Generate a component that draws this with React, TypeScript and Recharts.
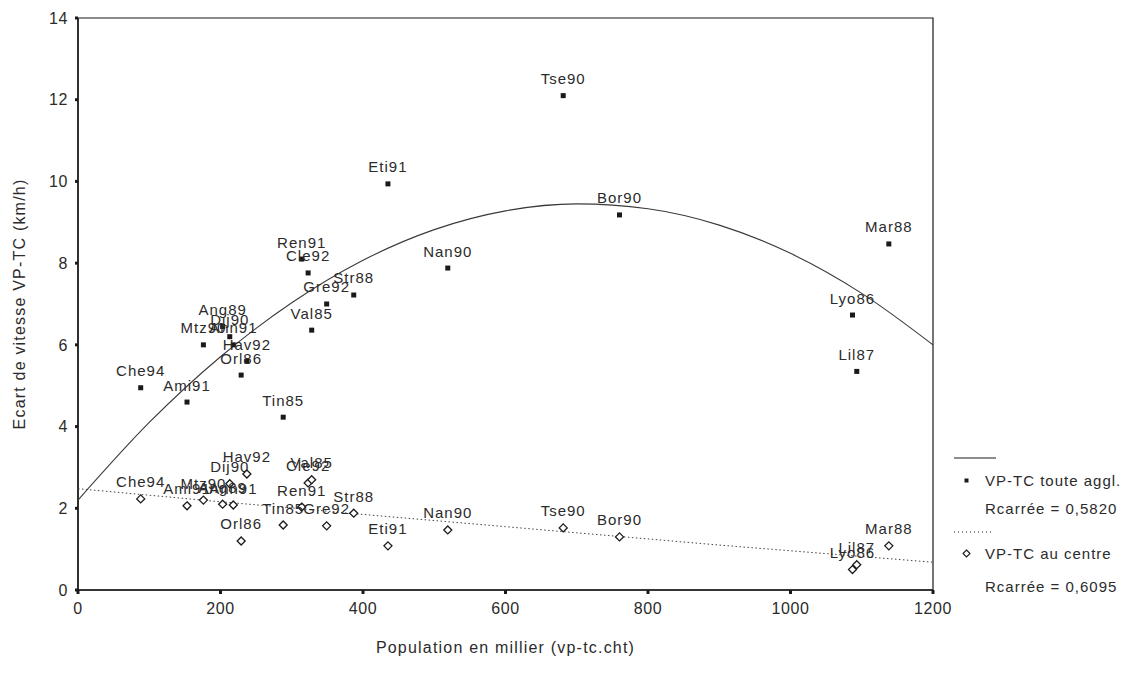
import React from 'react';
import {
  ScatterChart,
  Scatter,
  XAxis,
  YAxis,
  ReferenceArea,
  LabelList,
  Legend,
} from 'recharts';

// agglomeration codes, population (milliers), speed gaps VP-TC (km/h)
const codes = [
  'Che94', 'Ami91', 'Mtz90', 'Ang89', 'Dij90', 'Ann91', 'Hav92', 'Orl86',
  'Tin85', 'Ren91', 'Cle92', 'Val85', 'Gre92', 'Str88', 'Eti91', 'Nan90',
  'Tse90', 'Bor90', 'Lyo86', 'Lil87', 'Mar88',
];
const population = [
  88, 153, 176, 203, 213, 218, 237, 229,
  288, 314, 323, 328, 349, 387, 435, 519,
  681, 760, 1087, 1093, 1138,
];
const ecartAgglo = [
  4.95, 4.6, 6.0, 6.45, 6.2, 6.0, 5.6, 5.26,
  4.23, 8.1, 7.76, 6.36, 7.0, 7.22, 9.94, 7.88,
  12.1, 9.18, 6.73, 5.35, 8.47,
];
const ecartCentre = [
  2.23, 2.06, 2.2, 2.1, 2.6, 2.08, 2.84, 1.2,
  1.59, 2.03, 2.62, 2.7, 1.57, 1.88, 1.08, 1.47,
  1.52, 1.3, 0.5, 0.62, 1.08,
];

// fitted curves
const trendX = [0, 100, 200, 300, 400, 500, 600, 700, 800, 900, 1000, 1100, 1200];
const trendAgglo = [2.2, 4.1, 5.71, 7.03, 8.07, 8.82, 9.28, 9.45, 9.33, 8.93, 8.24, 7.26, 6.0];
const trendCentre = [2.48, 2.32, 2.16, 2.01, 1.85, 1.7, 1.55, 1.4, 1.25, 1.1, 0.96, 0.82, 0.68];

const xTicks = [0, 200, 400, 600, 800, 1000, 1200];
const yTicks = [0, 2, 4, 6, 8, 10, 12, 14];

const FONT = '"Liberation Sans", Arial, sans-serif';
const INK = '#1a1a1a';
const TEXT = '#2b2b2b';

const aggloPoints = codes.map((name, i) => ({ name, x: population[i], y: ecartAgglo[i] }));
const centrePoints = codes.map((name, i) => ({ name, x: population[i], y: ecartCentre[i] }));
const aggloCurve = trendX.map((x, i) => ({ x, y: trendAgglo[i] }));
const centreCurve = trendX.map((x, i) => ({ x, y: trendCentre[i] }));

const SquareDot = (p: any) => (
  <rect x={p.cx - 2.5} y={p.cy - 2.5} width={5} height={5} fill={INK} />
);

const DiamondDot = (p: any) => (
  <path
    d={`M${p.cx},${p.cy - 4}L${p.cx + 4},${p.cy}L${p.cx},${p.cy + 4}L${p.cx - 4},${p.cy}Z`}
    fill="#fff"
    stroke={INK}
    strokeWidth={1.3}
  />
);

const NoDot = () => <g />;

function LegendBox() {
  const row: React.CSSProperties = {
    position: 'absolute',
    left: 37,
    fontFamily: FONT,
    fontSize: 15,
    color: TEXT,
    letterSpacing: 1,
    whiteSpace: 'nowrap',
    lineHeight: '18px',
  };
  return (
    <div style={{ position: 'relative', width: 194, height: 150 }}>
      <svg style={{ position: 'absolute', left: 0, top: 0 }} width={60} height={150}>
        <line x1={6} x2={48} y1={8} y2={8} stroke={INK} strokeWidth={1} />
        <rect x={16.5} y={28.5} width={4} height={4} fill={INK} />
        <line x1={6} x2={44} y1={82} y2={82} stroke={INK} strokeWidth={1} strokeDasharray="1 3" />
        <path d="M18.5,100 L22,103.5 L18.5,107 L15,103.5 Z" fill="#fff" stroke={INK} strokeWidth={1.1} />
      </svg>
      <div style={{ ...row, top: 22 }}>VP-TC toute aggl.</div>
      <div style={{ ...row, top: 50 }}>Rcarrée = 0,5820</div>
      <div style={{ ...row, top: 95 }}>VP-TC au centre</div>
      <div style={{ ...row, top: 128 }}>Rcarrée = 0,6095</div>
    </div>
  );
}

export default function App() {
  const tick = { fill: TEXT, fontSize: 16, fontFamily: FONT, letterSpacing: 0.6 };
  const pointLabel = { fill: TEXT, fontSize: 15, fontFamily: FONT, letterSpacing: 1 };
  return (
    <div style={{ position: 'absolute', left: 0, top: 0, width: 1142, height: 675, background: '#fff' }}>
      <ScatterChart width={1142} height={675} margin={{ top: 18, right: 209, bottom: 0, left: 0 }}>
        <XAxis
          type="number"
          dataKey="x"
          domain={[0, 1200]}
          ticks={xTicks}
          height={85}
          tickSize={4}
          tickMargin={9}
          tick={tick}
          axisLine={{ stroke: INK, strokeWidth: 1.5 }}
          tickLine={{ stroke: INK, strokeWidth: 3 }}
          label={{
            value: 'Population en millier (vp-tc.cht)',
            position: 'insideBottom',
            offset: 22,
            fill: TEXT,
            fontSize: 16,
            fontFamily: FONT,
            letterSpacing: 1.2,
          }}
        />
        <YAxis
          type="number"
          dataKey="y"
          domain={[0, 14]}
          ticks={yTicks}
          width={78}
          tickSize={3}
          tickMargin={7}
          tick={tick}
          axisLine={{ stroke: INK, strokeWidth: 1.5 }}
          tickLine={{ stroke: INK, strokeWidth: 3 }}
          label={{
            content: (props: any) => {
              const vb = props.viewBox || { y: 18, height: 572 };
              const cy = vb.y + vb.height / 2;
              return (
                <text
                  x={19}
                  y={cy}
                  transform={`rotate(-90 19 ${cy})`}
                  textAnchor="middle"
                  dominantBaseline="central"
                  fill={TEXT}
                  fontSize={16}
                  fontFamily={FONT}
                  letterSpacing={1.2}
                >
                  Ecart de vitesse VP-TC (km/h)
                </text>
              );
            },
          }}
        />
        <ReferenceArea x1={0} x2={1200} y1={0} y2={14} fill="none" stroke={INK} strokeWidth={1.2} />
        <Scatter
          data={aggloCurve}
          line={{ stroke: '#3a3a3a', strokeWidth: 1.1 }}
          lineJointType="monotoneX"
          shape={NoDot}
          isAnimationActive={false}
          legendType="none"
        />
        <Scatter
          data={centreCurve}
          line={{ stroke: '#444', strokeWidth: 1, strokeDasharray: '1.5 2.5' }}
          lineJointType="monotoneX"
          shape={NoDot}
          isAnimationActive={false}
          legendType="none"
        />
        <Scatter data={aggloPoints} shape={SquareDot} isAnimationActive={false}>
          <LabelList dataKey="name" position="top" offset={7} {...pointLabel} />
        </Scatter>
        <Scatter data={centrePoints} shape={DiamondDot} isAnimationActive={false}>
          <LabelList dataKey="name" position="top" offset={7} {...pointLabel} />
        </Scatter>
        <Legend
          layout="horizontal"
          verticalAlign="middle"
          align="center"
          content={() => <LegendBox />}
          wrapperStyle={{ left: 948, top: 450, width: 194, height: 150 }}
        />
      </ScatterChart>
    </div>
  );
}
